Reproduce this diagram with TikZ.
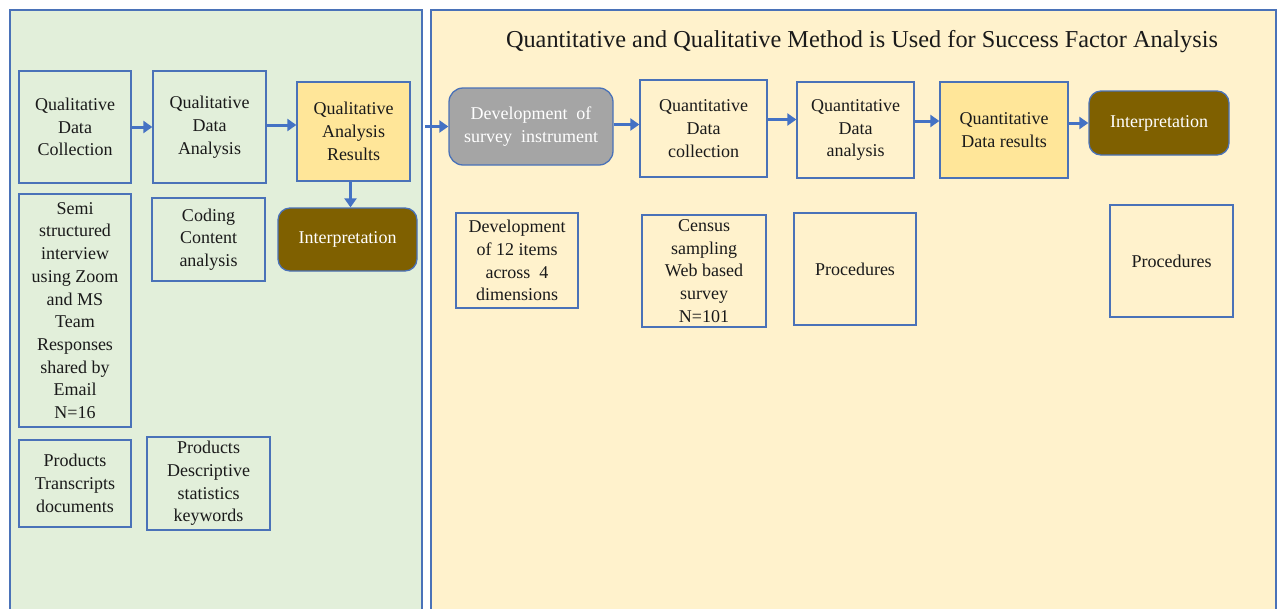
\documentclass[tikz,border=0pt]{standalone}
\usepackage{fontspec}
\setmainfont{Liberation Serif}
\usetikzlibrary{arrows.meta}
\definecolor{bord}{HTML}{4A72B8}
\definecolor{qualbg}{HTML}{E2EFDA}
\definecolor{quantbg}{HTML}{FFF2CC}
\definecolor{result}{HTML}{FFE699}
\definecolor{brown}{HTML}{7F6000}
\definecolor{greybox}{HTML}{A5A5A5}
\definecolor{ink}{HTML}{1A1A1A}
\definecolor{arrowblue}{HTML}{4472C4}
\tikzset{
  panel/.style={draw=bord, line width=1.2pt},
  box/.style={draw=bord, line width=1.3pt, align=center, inner sep=0pt,
    text=ink, font=\fontsize{18}{22.7}\selectfont},
  resultbox/.style={box, fill=result},
  interp/.style={box, fill=brown, text=white, rounded corners=12pt},
  greyround/.style={box, fill=greybox, text=white, rounded corners=14pt},
  arr/.style={draw=arrowblue, line width=3pt,
    -{Triangle[length=9pt,width=12pt]}},
}
\begin{document}
\begin{tikzpicture}[x=1pt,y=-1pt]
\useasboundingbox (0,0) rectangle (1279,608);
\begin{scope}
\clip (0,0) rectangle (1279,608);
\draw[panel, fill=qualbg] (10,10) rectangle (422,640);
\draw[panel, fill=quantbg] (431,10) rectangle (1276,640);
\end{scope}

\node[font=\fontsize{24.3}{28}\selectfont, text=ink] (title) at (862,41.5)
  {Quantitative and Qualitative Method is Used for Success Factor Analysis};

% qualitative strand
\node[box, minimum width=112pt, minimum height=112pt] (qdc) at (75,127)
  {Qualitative\\Data\\Collection};
\node[box, minimum width=113pt, minimum height=112pt] (qda) at (209.5,127)
  {Qualitative\\Data\\Analysis};
\node[resultbox, minimum width=113pt, minimum height=99pt] (qar) at (353.5,131.5)
  {Qualitative\\Analysis\\Results};
\node[interp, minimum width=139pt, minimum height=63pt] (int1) at (347.5,239.5)
  {Interpretation};
\node[box, minimum width=112pt, minimum height=233pt] (semi) at (75,310.5)
  {Semi\\structured\\interview\\using Zoom\\and MS\\Team\\Responses\\shared by\\Email\\N=16};
\node[box, minimum width=113pt, minimum height=83pt] (coding) at (208.5,239.5)
  {Coding\\Content\\analysis};
\node[box, minimum width=112pt, minimum height=87pt] (prodt) at (75,483.5)
  {Products\\Transcripts\\documents};
\node[box, minimum width=123pt, minimum height=93pt] (prodd) at (208.5,483.5)
  {Products\\Descriptive\\statistics\\keywords};

% quantitative strand
\node[greyround, minimum width=164pt, minimum height=77pt] (dev) at (531,126.5)
  {Development\ \ of\\survey\ \ instrument};
\node[box, minimum width=127pt, minimum height=97pt] (qdcoll) at (703.5,128.5)
  {Quantitative\\Data\\collection};
\node[box, minimum width=117pt, minimum height=96pt] (qdanal) at (855.5,130)
  {Quantitative\\Data\\analysis};
\node[resultbox, minimum width=128pt, minimum height=96pt] (qdres) at (1004,130)
  {Quantitative\\Data results};
\node[interp, minimum width=140pt, minimum height=64pt] (int2) at (1159,123)
  {Interpretation};
\node[box, minimum width=122pt, minimum height=95pt] (items) at (517,260.5)
  {Development\\of 12 items\\across\ \ 4\\dimensions};
\node[box, minimum width=124pt, minimum height=112pt] (census) at (704,271)
  {Census\\sampling\\Web based\\survey\\N=101};
\node[box, minimum width=122pt, minimum height=112pt] (proc1) at (855,269)
  {Procedures};
\node[box, minimum width=123pt, minimum height=112pt] (proc2) at (1171.5,261)
  {Procedures};

% connectors
\coordinate (handoff) at (425,126.5);
\draw[arr] (qdc.east) -- (qda.west);
\draw[arr] ([yshift=2pt]qda.east) -- ([yshift=2pt]qda.east -| qar.west);
\draw[arr] ([xshift=-3pt]qar.south) -- ([xshift=-3pt]qar.south |- int1.north);
\draw[arr] (handoff) -- (dev.west);
\draw[arr] ([yshift=2pt]dev.east) -- ([yshift=2pt]dev.east -| qdcoll.west);
\draw[arr] ([yshift=9pt]qdcoll.east) -- ([yshift=9pt]qdcoll.east -| qdanal.west);
\draw[arr] ([yshift=9pt]qdanal.east) -- ([yshift=9pt]qdanal.east -| qdres.west);
\draw[arr] (qdres.east |- int2.west) -- (int2.west);
\end{tikzpicture}
\end{document}
